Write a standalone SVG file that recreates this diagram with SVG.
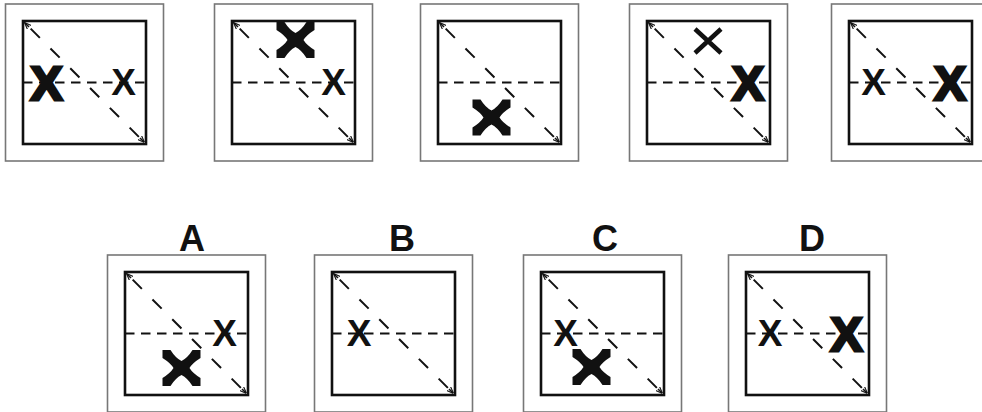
<svg xmlns="http://www.w3.org/2000/svg" xmlns:xlink="http://www.w3.org/1999/xlink" width="982" height="412" viewBox="0 0 982 412">
<style>
.outer{fill:none;stroke:#777;stroke-width:1.6}
.inner{fill:none;stroke:#111;stroke-width:2.6}
.dh{fill:none;stroke:#111;stroke-width:2;stroke-dasharray:9.5 6.5}
.dd{fill:none;stroke:#111;stroke-width:2;stroke-dasharray:13 15;stroke-dashoffset:-8}
.xs{font-family:"Liberation Sans",Arial,sans-serif;font-weight:bold;font-size:37px;fill:#111;text-anchor:middle}
.xb{font-family:"Liberation Sans",Arial,sans-serif;font-weight:bold;font-size:48px;fill:#111;stroke:#111;stroke-width:3;text-anchor:middle}
.lbl{font-family:"Liberation Sans",Arial,sans-serif;font-weight:bold;font-size:36px;fill:#111;text-anchor:middle}
.mk{fill:#111}
.tk{stroke:#111;stroke-width:4.5;fill:none}
</style>
<defs>
<marker id="ah" viewBox="0 0 10 10" refX="9" refY="5" markerWidth="7" markerHeight="7" markerUnits="userSpaceOnUse" orient="auto-start-reverse">
<path d="M0,1 L10,5 L0,9" fill="none" stroke="#111" stroke-width="1.6"/>
</marker>
<g id="frame">
<rect class="outer" x="-17.5" y="-17" width="158" height="157"/>
<rect class="inner" x="0" y="0" width="123" height="123"/>
<line class="dh" x1="0" y1="61.5" x2="123" y2="61.5"/>
<line class="dd" x1="2" y1="2" x2="121" y2="121"/>
<line x1="6" y1="6" x2="2" y2="2" stroke="#111" stroke-width="1.6" marker-end="url(#ah)"/>
<line x1="117" y1="117" x2="121" y2="121" stroke="#111" stroke-width="1.6" marker-end="url(#ah)"/>
</g>
<path id="pinch" class="mk" d="M-19,-18 L-11,-18 Q-6,-10 0,-7 Q6,-10 11,-18 L19,-18 L19,-10 Q11,-5 8,0 Q11,5 19,10 L19,18 L11,18 Q6,10 0,7 Q-6,10 -11,18 L-19,18 L-19,10 Q-11,5 -8,0 Q-11,-5 -19,-10 Z"/>
<g id="thin" class="tk">
<path d="M-13,-12 L13,12 M13,-12 L-13,12"/>
</g>
</defs>

<g id="q1" transform="translate(23,21)">
<use xlink:href="#frame" href="#frame"/>
<text class="xb" x="23.5" y="78.5">X</text>
<text class="xs" x="100.5" y="73.5">X</text>
</g>
<g id="q2" transform="translate(232,21)">
<use xlink:href="#frame" href="#frame"/>
<use xlink:href="#pinch" href="#pinch" x="63.5" y="19"/>
<text class="xs" x="101.5" y="73.5">X</text>
</g>
<g id="q3" transform="translate(438,21)">
<use xlink:href="#frame" href="#frame"/>
<use xlink:href="#pinch" href="#pinch" x="53.5" y="96.5"/>
</g>
<g id="q4" transform="translate(647,21)">
<use xlink:href="#frame" href="#frame"/>
<use xlink:href="#thin" href="#thin" x="61" y="20"/>
<text class="xb" x="101" y="78.5">X</text>
</g>
<g id="q5" transform="translate(849,21)">
<use xlink:href="#frame" href="#frame"/>
<text class="xs" x="24.5" y="73.5">X</text>
<text class="xb" x="101" y="78.5">X</text>
</g>

<g id="optA" transform="translate(125,272)">
<text class="lbl" x="67" y="-21">A</text>
<use xlink:href="#frame" href="#frame"/>
<text class="xs" x="99.5" y="74">X</text>
<use xlink:href="#pinch" href="#pinch" x="56.5" y="96"/>
</g>
<g id="optB" transform="translate(332,272)">
<text class="lbl" x="70" y="-21">B</text>
<use xlink:href="#frame" href="#frame"/>
<text class="xs" x="27" y="74">X</text>
</g>
<g id="optC" transform="translate(541,272)">
<text class="lbl" x="64" y="-21">C</text>
<use xlink:href="#frame" href="#frame"/>
<text class="xs" x="24.5" y="74">X</text>
<use xlink:href="#pinch" href="#pinch" x="50.5" y="95"/>
</g>
<g id="optD" transform="translate(746,272)">
<text class="lbl" x="66" y="-21">D</text>
<use xlink:href="#frame" href="#frame"/>
<text class="xs" x="24" y="74">X</text>
<text class="xb" x="100.5" y="78.5">X</text>
</g>
<g id="connectors"></g>
</svg>
